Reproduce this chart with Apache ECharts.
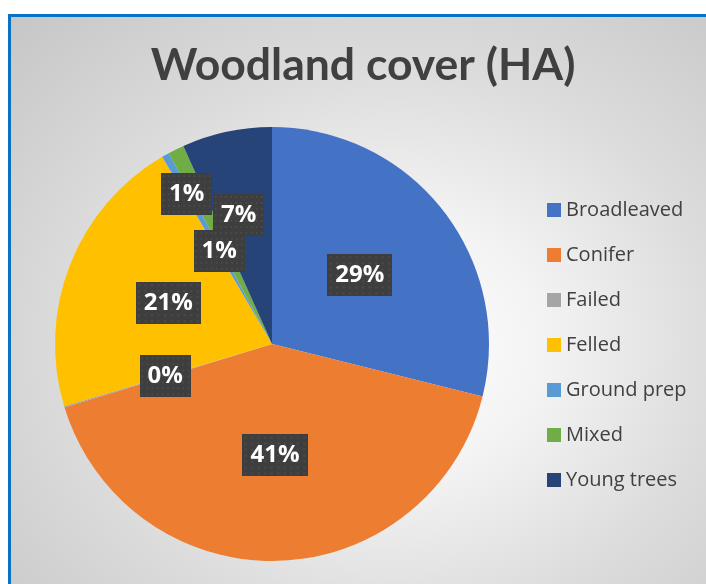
<!DOCTYPE html>
<html>
<head>
<meta charset="utf-8">
<script src="https://cdn.jsdelivr.net/npm/echarts@6/dist/echarts.min.js"></script>
<style>
  html, body { margin: 0; padding: 0; background: #ffffff; }
  #frame {
    position: absolute; left: 8px; top: 14px; right: 0; bottom: 0;
    border-left: 3px solid #0872c6; border-top: 3px solid #0872c6;
    background: radial-gradient(ellipse farthest-corner at 55% 58%, #ffffff 0%, #f3f3f3 28%, #dcdcdc 60%, #c6c6c6 100%);
  }
  #chart { position: absolute; left: 0; top: 0; width: 706px; height: 584px; }
</style>
</head>
<body>
<div id="frame"></div>
<div id="chart"></div>
<script>
// Woodland cover by category (share of total hectares)
const categories = ['Broadleaved', 'Conifer', 'Failed', 'Felled', 'Ground prep', 'Mixed', 'Young trees'];
const coverValues = [28.9, 41.4, 0.1, 21.2, 0.55, 1.2, 6.7];
const sliceColors = ['#4472c4', '#ed7d31', '#a5a5a5', '#ffc000', '#5b9bd5', '#70ad47', '#264478'];
const chartTitle = 'Woodland cover (HA)';

// Small slices get their labels nudged apart so they do not collide
const labelNudge = { 4: [2, 4], 5: [-36, -50], 6: [-10, -20] };

// Dark dotted tile used behind the percentage labels
function dottedTile() {
  const c = document.createElement('canvas');
  c.width = 60; c.height = 42;
  const g = c.getContext('2d');
  g.fillStyle = '#3e3e3e';
  g.fillRect(0, 0, c.width, c.height);
  g.fillStyle = '#4a4a4a';
  for (let y = 2; y < c.height; y += 6) {
    for (let x = 2; x < c.width; x += 6) {
      g.fillRect(x, y, 2, 2);
    }
  }
  return c;
}
const tile = dottedTile();

const chart = echarts.init(document.getElementById('chart'), null, { renderer: 'canvas' });
chart.setOption({
  animation: false,
  backgroundColor: 'transparent',
  title: {
    text: chartTitle,
    left: 358,
    top: 38,
    textAlign: 'center',
    textStyle: { fontFamily: 'Lato', fontWeight: 'bold', fontSize: 44.5, color: '#404040' }
  },
  legend: {
    orient: 'vertical',
    left: 542,
    top: 195,
    itemWidth: 14,
    itemHeight: 14,
    itemGap: 25,
    icon: 'rect',
    data: categories,
    textStyle: { fontFamily: 'Open Sans', fontSize: 20, color: '#404040' }
  },
  series: [{
    type: 'pie',
    center: [272, 344],
    radius: 217,
    startAngle: 90,
    clockwise: true,
    avoidLabelOverlap: false,
    itemStyle: { borderWidth: 0 },
    label: {
      show: true,
      position: 'inside',
      formatter: p => Math.round(p.percent) + '%',
      color: '#ffffff',
      fontFamily: 'Open Sans',
      fontWeight: 'bold',
      fontSize: 24,
      lineHeight: 26,
      padding: [8, 8, 8, 8],
      backgroundColor: { image: tile },
      shadowColor: 'rgba(0,0,0,0.45)',
      shadowBlur: 6,
      shadowOffsetX: 3,
      shadowOffsetY: 3
    },
    labelLine: { show: false },
    emphasis: { disabled: true },
    labelLayout: p => {
      const n = labelNudge[p.dataIndex];
      return n ? { dx: n[0], dy: n[1] } : {};
    },
    data: categories.map((name, i) => ({
      name,
      value: coverValues[i],
      itemStyle: { color: sliceColors[i] }
    }))
  }]
});
</script>
</body>
</html>
